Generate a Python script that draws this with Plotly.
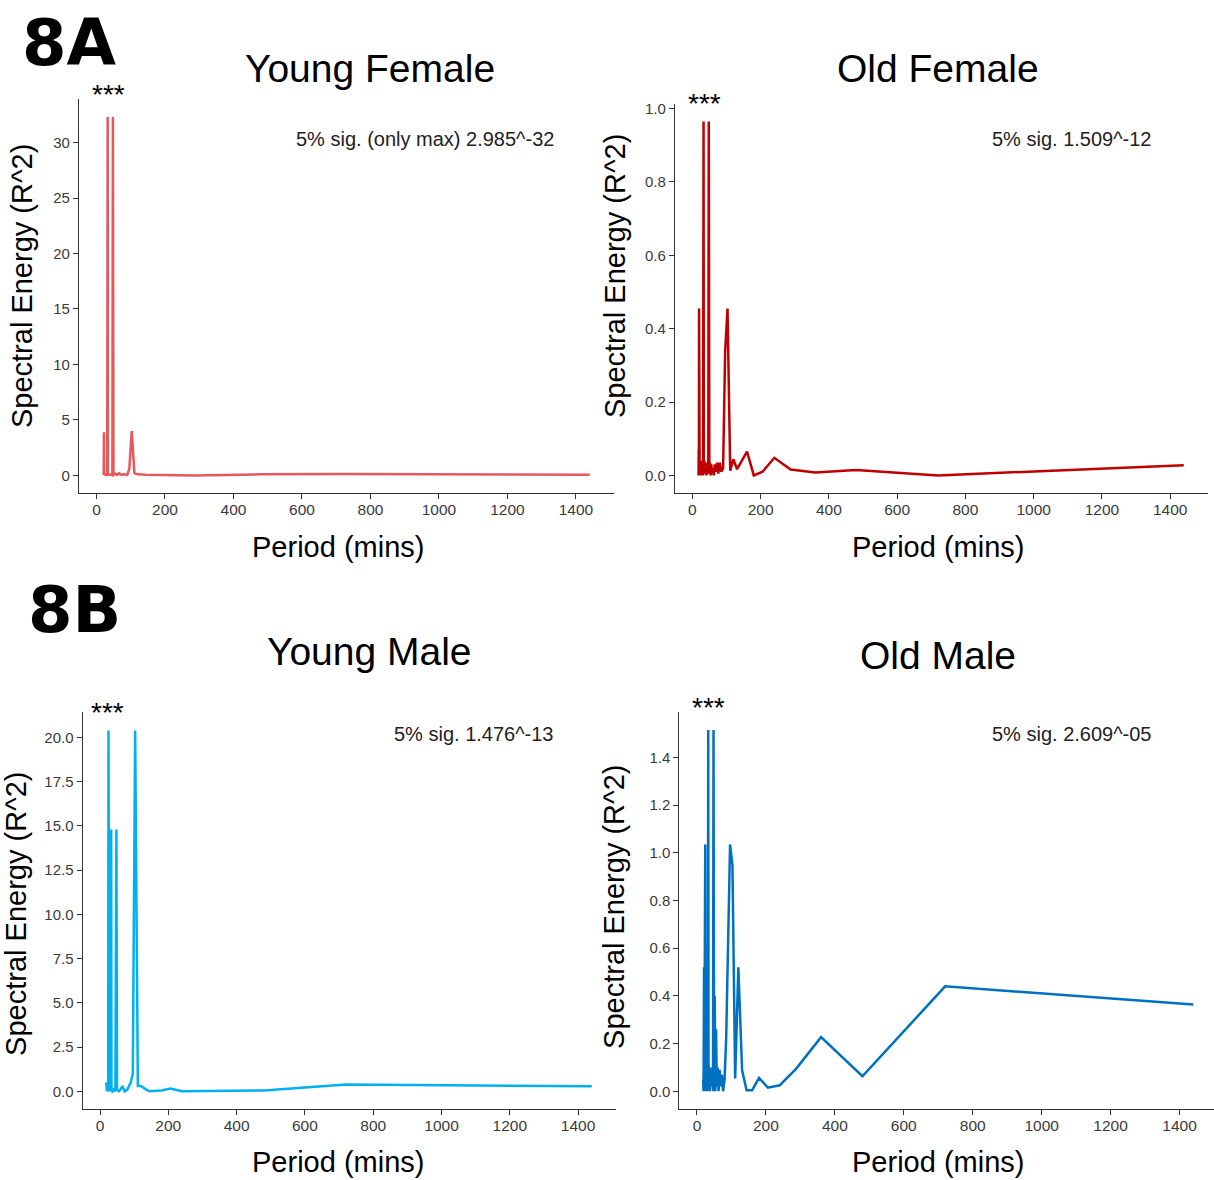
import plotly.graph_objects as go

W, H = 1214, 1180

# ---------------- data ----------------
yf_period = [20, 20.6, 21.2, 21.8, 22.5, 24, 26.2, 28.2, 30.6, 31.3, 32.7, 33.5, 36, 40, 43.6, 46.5, 48,
             49.7, 55.4, 60, 65.5, 72, 80, 90, 96, 102.9, 110.8, 120, 144, 205.7, 288, 480, 720, 1440]
yf_energy = [0.1, 0.2, 0.05, 3.9, 0.05, 0.1, 0.05, 0.1, 0.05, 0.1, 32.3, 0.05, 0.1, 0.05, 0.1, 0.05, 32.3,
             0.05, 0.15, 0.05, 0.2, 0.05, 0.1, 0.05, 0.6, 4.0, 0.2, 0.1, 0.05, 0.02, 0.0, 0.1, 0.12, 0.05]

of_period = [18, 18.5, 19, 19.5, 20, 20.6, 21.2, 21.8, 22.5, 23.2, 24, 25.3, 26.7, 28.2, 29.4, 30.6, 31.3,
             32.7, 33.5, 35.1, 36.9, 38.9, 41.1, 43.6, 46.5, 48, 49.7, 51.4, 53.3, 55.4, 57.6, 60, 62.6,
             65.5, 68.6, 72, 75.8, 80, 84.7, 90, 96, 102.9, 110.8, 120, 130.9, 160, 180, 205.7, 240, 288,
             360, 480, 720, 1440]
of_energy = [0.0, 0.07, 0.0, 0.455, 0.01, 0.455, 0.0, 0.04, 0.01, 0.04, 0.0, 0.03, 0.0, 0.04, 0.005, 0.03, 0.0,
             0.965, 0.005, 0.04, 0.01, 0.035, 0.0, 0.03, 0.005, 0.965, 0.01, 0.035, 0.0, 0.03, 0.005, 0.02, 0.0,
             0.03, 0.01, 0.035, 0.005, 0.035, 0.01, 0.02, 0.34, 0.455, 0.013, 0.044, 0.017, 0.065, 0.0, 0.01,
             0.048, 0.016, 0.008, 0.015, 0.0, 0.028]

ym_period = [18, 19, 20, 20.6, 21.2, 22.5, 24, 24.8, 25.7, 27.7, 30, 31.3, 32.7, 33.5, 36, 40, 45, 48, 49.7,
             55.4, 60, 65.5, 72, 80, 90, 96, 102.9, 110.8, 120, 130.9, 144, 180, 205.7, 240, 360, 480, 720,
             1440]
ym_energy = [0.3, 0.5, 0.0, 0.5, 0.0, 0.1, 0.0, 20.4, 0.1, 0.0, 0.1, 14.8, 14.8, 0.1, 0.0, 0.1, 0.0, 14.8, 0.1,
             0.0, 0.1, 0.3, 0.0, 0.1, 0.5, 1.0, 20.4, 0.3, 0.3, 0.15, 0.0, 0.05, 0.15, 0.0, 0.02, 0.05, 0.38,
             0.28]

om_period = [18, 18.5, 19, 19.5, 20, 20.6, 21.2, 22.5, 23.2, 24, 24.8, 26.2, 27.2, 28.2, 29.4, 30.6, 31.3,
             32.7, 33.5, 35.1, 36.9, 38.9, 41.1, 43.6, 46.5, 48, 49.7, 51.4, 53.3, 55.4, 57.6, 60, 62.6,
             65.5, 68.6, 72, 75.8, 80, 84.7, 96, 102.9, 110.8, 120, 130.9, 144, 160, 180, 205.7, 240, 288,
             360, 480, 720, 1440]
om_energy = [0.05, 0.227, 0.0, 0.3, 0.02, 0.52, 0.0, 1.035, 0.05, 1.035, 0.0, 0.15, 0.0, 0.3, 0.02, 0.1, 0.0,
             1.515, 0.0, 0.08, 0.0, 0.1, 0.02, 0.07, 0.0, 1.515, 0.0, 0.4, 0.0, 0.26, 0.02, 0.1, 0.0,
             0.09, 0.02, 0.07, 0.0, 0.05, 0.22, 1.035, 0.95, 0.054, 0.52, 0.088, 0.004, 0.004, 0.056, 0.015,
             0.025, 0.095, 0.227, 0.063, 0.44, 0.364]

titles = ["Young Female", "Old Female", "Young Male", "Old Male"]
sig_texts = ["5% sig. (only max) 2.985^-32", "5% sig. 1.509^-12", "5% sig. 1.476^-13", "5% sig. 2.609^-05"]
x_ticks = [0, 200, 400, 600, 800, 1000, 1200, 1400]
yf_ticks = [0, 5, 10, 15, 20, 25, 30]
of_ticks = [0.0, 0.2, 0.4, 0.6, 0.8, 1.0]
ym_ticks = [0.0, 2.5, 5.0, 7.5, 10.0, 12.5, 15.0, 17.5, 20.0]
om_ticks = [0.0, 0.2, 0.4, 0.6, 0.8, 1.0, 1.2, 1.4]

# ---------------- layout geometry (pixels) ----------------
panels = [
    dict(x=yf_period, y=yf_energy, color="#E5595E", xpx=(79, 614), ypx=(95.4, 491),
         xr=(-51, 1511), yr=(-1.615, 33.915), yt=yf_ticks, yfmt="d",
         title=(370, 65), sig=(425, 135), stars=(108, 89), ylab=(22, 283), xlab=(338, 545)),
    dict(x=of_period, y=of_energy, color="#C00000", xpx=(675, 1208), ypx=(100.2, 490.7),
         xr=(-51, 1511), yr=(-0.048, 1.013), yt=of_ticks, yfmt=".1f",
         title=(938, 65), sig=(1071, 135), stars=(704, 98), ylab=(615, 273), xlab=(938, 545)),
    dict(x=ym_period, y=ym_energy, color="#00B0F0", xpx=(82.6, 616), ypx=(710.8, 1109.1),
         xr=(-51, 1511), yr=(-1.02, 21.42), yt=ym_ticks, yfmt=".1f",
         title=(369, 650), sig=(473, 732), stars=(107, 709), ylab=(16, 913), xlab=(338, 1162)),
    dict(x=om_period, y=om_energy, color="#0070C0", xpx=(679.4, 1214), ypx=(710.3, 1109.1),
         xr=(-51, 1500), yr=(-0.0758, 1.591), yt=om_ticks, yfmt=".1f",
         title=(938, 654), sig=(1071, 732), stars=(708, 704), ylab=(614, 906), xlab=(938, 1162)),
]


def px_x(v):
    return v / W


def px_y(v):
    return 1 - v / H


fig = go.Figure()
annotations = []
FONT = "Liberation Sans, Arial, sans-serif"
TICKC = "#3a3a3a"

for i, p in enumerate(panels, start=1):
    xa = "x" if i == 1 else f"x{i}"
    ya = "y" if i == 1 else f"y{i}"
    fig.add_trace(go.Scatter(x=p["x"], y=p["y"], mode="lines",
                             line=dict(color=p["color"], width=2.5),
                             xaxis=xa, yaxis=ya, showlegend=False, hoverinfo="skip"))
    xkey = "xaxis" if i == 1 else f"xaxis{i}"
    ykey = "yaxis" if i == 1 else f"yaxis{i}"
    fig.update_layout(**{
        xkey: dict(domain=[px_x(p["xpx"][0]), px_x(p["xpx"][1])], range=list(p["xr"]),
                   anchor=ya, showgrid=False, zeroline=False, showline=True, linecolor="#333",
                   linewidth=1.2, ticks="outside", ticklen=5, tickcolor="#333", tickwidth=1.2,
                   ticklabelstandoff=-3,
                   tickvals=x_ticks, ticktext=[str(t) for t in x_ticks],
                   tickfont=dict(family=FONT, size=15.5, color=TICKC), fixedrange=True),
        ykey: dict(domain=[px_y(p["ypx"][1]), px_y(p["ypx"][0])], range=list(p["yr"]),
                   anchor=xa, showgrid=False, zeroline=False, showline=True, linecolor="#333",
                   linewidth=1.2, ticks="outside", ticklen=5, tickcolor="#333", tickwidth=1.2,
                   tickvals=p["yt"], ticktext=[format(t, p["yfmt"]) if p["yfmt"] != "d" else str(int(t)) for t in p["yt"]],
                   tickfont=dict(family=FONT, size=15, color=TICKC), fixedrange=True),
    })
    annotations += [
        dict(text=titles[i - 1], x=px_x(p["title"][0]), y=px_y(p["title"][1]), xref="paper", yref="paper",
             xanchor="center", yanchor="middle", showarrow=False,
             font=dict(family=FONT, size=39, color="black")),
        dict(text=sig_texts[i - 1], x=px_x(p["sig"][0]), y=px_y(p["sig"][1]), xref="paper", yref="paper",
             xanchor="center", yanchor="middle", showarrow=False,
             font=dict(family=FONT, size=20, color="#222")),
        dict(text="***", x=px_x(p["stars"][0]), y=px_y(p["stars"][1] + 2), xref="paper", yref="paper",
             xanchor="center", yanchor="middle", showarrow=False,
             font=dict(family=FONT, size=28, color="black")),
        dict(text="Spectral Energy (R^2)", x=px_x(p["ylab"][0]), y=px_y(p["ylab"][1]), xref="paper",
             yref="paper", xanchor="center", yanchor="middle", textangle=-90, showarrow=False,
             font=dict(family=FONT, size=29, color="black")),
        dict(text="Period (mins)", x=px_x(p["xlab"][0]), y=px_y(p["xlab"][1]), xref="paper", yref="paper",
             xanchor="center", yanchor="middle", showarrow=False,
             font=dict(family=FONT, size=29, color="black")),
    ]

annotations += [
    dict(text="<b>8A</b>", x=px_x(20), y=1.0, xref="paper", yref="paper", xanchor="left",
         yanchor="top", showarrow=False, font=dict(family="DejaVu Sans", size=64, color="black")),
    dict(text="<b>8B</b>", x=px_x(26), y=px_y(569), xref="paper", yref="paper", xanchor="left",
         yanchor="top", showarrow=False, font=dict(family="DejaVu Sans", size=64, color="black")),
]

fig.update_layout(width=W, height=H, autosize=False, margin=dict(l=0, r=0, t=0, b=0),
                  paper_bgcolor="white", plot_bgcolor="white", annotations=annotations)

fig.write_html("out.html")
